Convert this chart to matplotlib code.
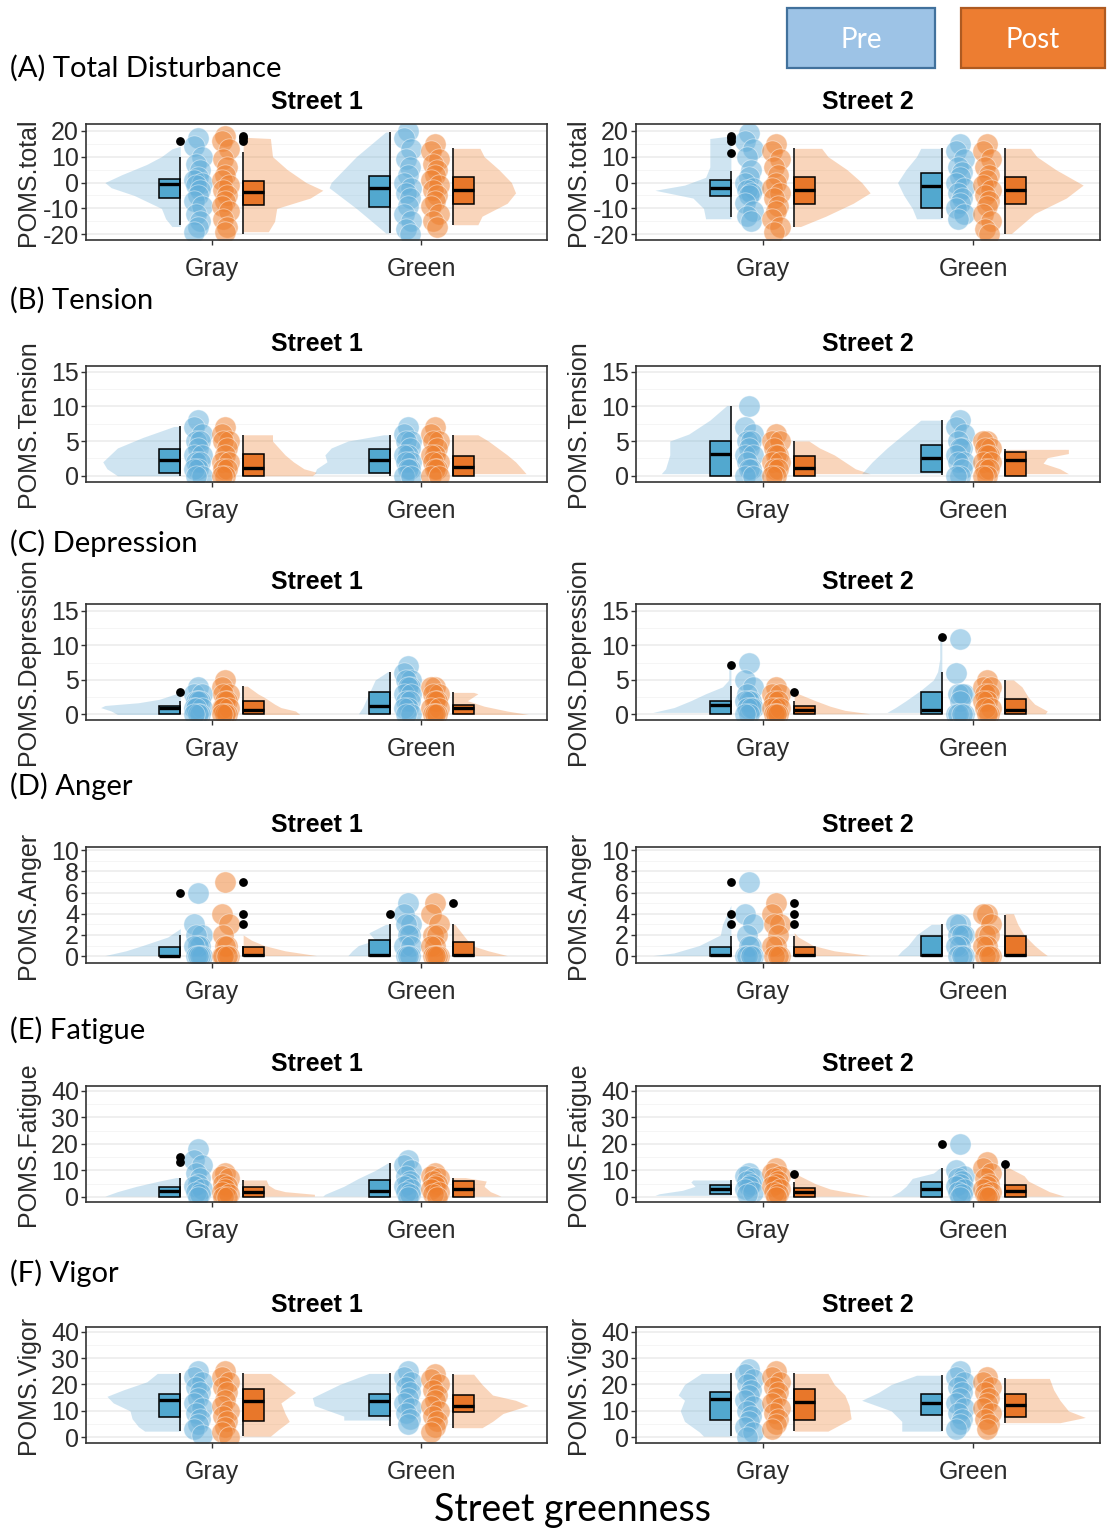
import matplotlib.pyplot as plt
from matplotlib.patches import Rectangle
import numpy as np

plt.rcParams['font.family'] = ['Liberation Sans', 'DejaVu Sans']
plt.rcParams['axes.unicode_minus'] = False

# --- categories / labels ---
groups = ['Gray', 'Green']
streets = ['Street 1', 'Street 2']
panel_labels = ['(A) Total Disturbance', '(B) Tension', '(C) Depression',
                '(D) Anger', '(E) Fatigue', '(F) Vigor']
y_titles = ['POMS.total', 'POMS.Tension', 'POMS.Depression',
            'POMS.Anger', 'POMS.Fatigue', 'POMS.Vigor']
y_ticks = [[-20, -10, 0, 10, 20], [0, 5, 10, 15], [0, 5, 10, 15],
           [0, 2, 4, 6, 8, 10], [0, 10, 20, 30, 40], [0, 10, 20, 30, 40]]
y_lims = [(-22.2, 22.6), (-0.9, 15.8), (-0.8, 16.0),
          (-0.65, 10.3), (-1.9, 41.8), (-2.2, 41.8)]

# order of the four entries in every list: S1 Gray, S1 Green, S2 Gray, S2 Green
# box = (lower whisker, q1, median, q3, upper whisker)

# (A) Total disturbance
total_pre_box = [(-16.5, -6.1, -0.4, 1.5, 10), (-19.5, -9.3, -2.3, 2.4, 19.5),
                 (-13.5, -5.1, -2.3, 1.1, 4.4), (-13.7, -9.7, -1.4, 3.7, 13.2)]
total_post_box = [(-19.7, -8.6, -3.6, 0.6, 11.7), (-16.3, -8.3, -2.7, 2.2, 13.2),
                  (-17.3, -8.3, -2.9, 2.2, 13.2), (-19.7, -8.3, -2.9, 2.2, 13.2)]
total_pre_out = [[16], [], [18, 17, 16, 11.5], []]
total_post_out = [[18, 17, 16], [], [], []]
total_pre_pts = [[17, 14, 10, 7, 5, 2, 1, 0, -1, -3, -5, -7, -9, -12, -15, -17, -19],
                 [20, 17, 13, 9, 6, 3, 0, -2, -4, -6, -9, -12, -15, -18, -20],
                 [19, 16, 13, 10, 5, 2, 0, -2, -3, -4, -5, -8, -11, -13, -15],
                 [15, 12, 9, 6, 4, 2, 0, -2, -4, -6, -8, -10, -12, -14]]
total_post_pts = [[18, 16, 13, 9, 6, 3, 1, -1, -3, -5, -7, -9, -11, -14, -17, -19],
                  [15, 12, 9, 7, 5, 3, 1, -1, -3, -5, -7, -9, -12, -15, -17],
                  [15, 12, 9, 6, 3, 0, -2, -4, -6, -9, -11, -14, -17, -19],
                  [15, 12, 9, 6, 3, 1, -1, -3, -5, -7, -9, -12, -15, -18, -20]]
total_pre_vio = [([-17, -14, -10, -5, -2, 0, 3, 7, 10, 13, 14],
                  [0.04, 0.07, 0.09, 0.22, 0.33, 0.36, 0.28, 0.16, 0.09, 0.04, 0.0]),
                 ([-19.5, -10, -2, 0, 10, 19.5], [0.02, 0.16, 0.29, 0.28, 0.16, 0.02]),
                 ([-14, -10, -6, -3, -1, 2, 6, 12, 17, 18],
                  [0.12, 0.13, 0.18, 0.36, 0.22, 0.12, 0.1, 0.1, 0.1, 0.0]),
                 ([-14, -10, -5, 0, 5, 10, 13.2], [0.12, 0.14, 0.18, 0.21, 0.17, 0.12, 0.1])]
total_post_vio = [([-19, -15, -10, -6, -3, 0, 5, 10, 17, 17.5],
                   [0.12, 0.15, 0.16, 0.32, 0.38, 0.3, 0.21, 0.14, 0.13, 0.0]),
                  ([-16.3, -13, -8, -4, 0, 5, 10, 13.2],
                   [0.12, 0.14, 0.26, 0.3, 0.28, 0.22, 0.15, 0.13]),
                  ([-17, -13, -8, -4, 0, 5, 10, 13.2],
                   [0.03, 0.15, 0.28, 0.36, 0.32, 0.25, 0.16, 0.13]),
                  ([-19.7, -12, -6, -1, 5, 10, 13.2],
                   [0.03, 0.14, 0.29, 0.37, 0.24, 0.15, 0.12])]

# (B) Tension
tension_pre_box = [(0, 0.4, 2.2, 3.9, 7.1), (0, 0.4, 2.2, 3.9, 5.9),
                   (0, 0, 3.1, 5.0, 10.1), (0.1, 0.5, 2.6, 4.4, 8.0)]
tension_post_box = [(0, 0, 1.1, 3.2, 5.9), (0, 0, 1.3, 2.9, 5.9),
                    (0, 0, 1.1, 2.9, 5.0), (0, 0, 2.2, 3.4, 3.9)]
tension_pre_out = [[], [], [], []]
tension_post_out = [[], [], [], []]
tension_pre_pts = [[8, 7, 6, 5, 5, 4, 3, 3, 2, 2, 1, 1, 0, 0],
                   [7, 6, 5, 5, 4, 3, 3, 2, 2, 1, 1, 0, 0],
                   [10, 7, 6, 5, 5, 4, 3, 3, 2, 1, 1, 0, 0],
                   [8, 7, 6, 5, 4, 4, 3, 2, 2, 1, 0, 0]]
tension_post_pts = [[7, 6, 5, 5, 4, 3, 2, 2, 1, 1, 0, 0],
                    [7, 6, 5, 5, 4, 3, 3, 2, 2, 1, 1, 0, 0],
                    [6, 5, 5, 4, 3, 3, 2, 2, 1, 1, 0, 0],
                    [5, 5, 4, 4, 3, 3, 2, 2, 1, 1, 0, 0]]
tension_pre_vio = [([0, 1, 2, 4, 5.5, 7.1], [0.3, 0.35, 0.37, 0.3, 0.18, 0.03]),
                   ([0.3, 1, 2, 3, 4, 5, 5.9], [0.36, 0.35, 0.3, 0.31, 0.28, 0.2, 0.03]),
                   ([0.3, 1, 3, 5, 6, 8, 10.1], [0.33, 0.31, 0.29, 0.29, 0.2, 0.1, 0.02]),
                   ([0.3, 2, 4, 6, 8], [0.38, 0.33, 0.26, 0.18, 0.1])]
tension_post_vio = [([0, 0.5, 1, 2, 3, 5, 5.9], [0.33, 0.35, 0.29, 0.24, 0.2, 0.14, 0.14]),
                    ([0.3, 1, 2, 3, 5, 5.9], [0.35, 0.33, 0.3, 0.26, 0.17, 0.12]),
                    ([0.3, 1, 2, 3, 4, 5], [0.36, 0.29, 0.24, 0.19, 0.12, 0.07]),
                    ([0.3, 1, 1.8, 2.6, 3.2, 3.8], [0.3, 0.26, 0.18, 0.2, 0.3, 0.3])]

# (C) Depression
depression_pre_box = [(0, 0, 1.0, 1.3, 2.0), (0, 0, 1.3, 3.2, 6.2),
                      (0, 0, 1.4, 2.0, 4.1), (0, 0, 0.6, 3.2, 6.2)]
depression_post_box = [(0, 0, 0.6, 2.0, 4.1), (0, 0, 1.0, 1.4, 3.2),
                       (0, 0, 0.6, 1.2, 2.0), (0, 0, 0.7, 2.3, 5.0)]
depression_pre_out = [[3.2], [], [7.1], [11.2]]
depression_post_out = [[], [], [3.2], []]
depression_pre_pts = [[4, 3, 3, 2, 2, 2, 1, 1, 1, 0, 0, 0],
                      [7, 6, 5, 5, 4, 4, 3, 3, 2, 2, 1, 1, 0, 0],
                      [7.5, 5, 4, 3, 2, 2, 2, 1, 1, 1, 0, 0],
                      [11, 6, 3, 3, 3, 2, 0, 0, 0, 0]]
depression_post_pts = [[5, 4, 3, 3, 2, 2, 1, 1, 1, 0, 0, 0],
                       [4, 4, 3, 3, 2, 2, 1, 1, 0, 0, 0],
                       [4, 3, 3, 2, 2, 1, 1, 1, 0, 0, 0],
                       [5, 4, 4, 3, 3, 2, 2, 1, 1, 0, 0]]
depression_pre_vio = [([0, 0.5, 1.0, 1.3, 1.7, 2.2, 3.0], [0.3, 0.33, 0.38, 0.36, 0.2, 0.1, 0.02]),
                      ([0.1, 1, 3, 5, 6.2], [0.15, 0.13, 0.1, 0.07, 0.01]),
                      ([0.3, 1, 2, 3, 4, 5, 7.1], [0.37, 0.27, 0.19, 0.12, 0.04, 0.01, 0.01]),
                      ([0.3, 1, 2, 3.5, 5, 6.2, 8, 11.2],
                       [0.26, 0.22, 0.17, 0.1, 0.04, 0.02, 0.01, 0.01])]
depression_post_vio = [([0, 0.5, 1, 1.5, 2.5, 3, 4.1], [0.27, 0.25, 0.18, 0.15, 0.1, 0.07, 0.02]),
                       ([0, 0.5, 1.2, 2, 3.0, 3.2], [0.36, 0.26, 0.15, 0.07, 0.12, 0.1]),
                       ([0.1, 0.6, 1.2, 2, 3, 3.2], [0.36, 0.24, 0.17, 0.1, 0.02, 0.0]),
                       ([0.1, 0.5, 1.5, 2.5, 4, 5], [0.19, 0.2, 0.14, 0.11, 0.08, 0.04])]

# (D) Anger
anger_pre_box = [(0, 0, 0, 0.9, 2.0), (0, 0, 0.1, 1.5, 3.0),
                 (0, 0, 0.1, 0.9, 1.9), (0, 0, 0.1, 1.9, 3.0)]
anger_post_box = [(0, 0, 0.15, 0.9, 1.0), (0, 0, 0.1, 1.3, 3.0),
                  (0, 0, 0.15, 0.9, 1.9), (0, 0, 0.1, 1.9, 3.9)]
anger_pre_out = [[6], [4], [7, 4, 3], []]
anger_post_out = [[7, 4, 3], [5], [5, 4, 3], []]
anger_pre_pts = [[6, 3, 2, 2, 1, 1, 1, 0, 0, 0, 0],
                 [5, 4, 3, 3, 2, 2, 1, 1, 0, 0, 0],
                 [7, 4, 3, 2, 1, 1, 0, 0, 0, 0],
                 [3, 3, 2, 2, 2, 1, 1, 0, 0, 0]]
anger_post_pts = [[7, 4, 3, 2, 1, 1, 0, 0, 0, 0],
                  [5, 4, 3, 2, 2, 1, 1, 0, 0, 0, 0],
                  [5, 4, 3, 3, 2, 1, 1, 0, 0, 0],
                  [4, 4, 3, 2, 2, 1, 1, 0, 0, 0]]
anger_pre_vio = [([0.05, 0.5, 1, 1.8, 2.6], [0.36, 0.26, 0.18, 0.06, 0.0]),
                 ([0.05, 0.5, 1, 1.5, 2.2, 3.0], [0.2, 0.18, 0.15, 0.07, 0.1, 0.02]),
                 ([0.05, 0.3, 1, 2, 3, 4.8], [0.37, 0.27, 0.15, 0.05, 0.04, 0.0]),
                 ([0.05, 0.5, 1, 2, 3], [0.21, 0.19, 0.16, 0.12, 0.05])]
anger_post_vio = [([0.05, 0.5, 1, 1.5, 2], [0.35, 0.2, 0.1, 0.04, 0.0]),
                  ([0.05, 0.5, 1, 2, 3], [0.26, 0.17, 0.09, 0.05, 0.01]),
                  ([0.05, 0.5, 1, 1.8, 2.2], [0.36, 0.19, 0.09, 0.02, 0.0]),
                  ([0.05, 0.5, 1, 2, 3, 4], [0.2, 0.17, 0.14, 0.09, 0.06, 0.04])]

# (E) Fatigue
fatigue_pre_box = [(0, 0, 2.3, 3.8, 7.3), (0, 0, 2.3, 6.4, 12.8),
                   (0.6, 1.3, 2.9, 4.5, 6.4), (0, 0, 2.9, 5.8, 10.9)]
fatigue_post_box = [(0, 0, 1.9, 3.8, 6.4), (0, 0, 2.9, 6.0, 7.3),
                    (0, 0, 1.7, 3.2, 5.8), (0, 0, 2.3, 4.5, 10.9)]
fatigue_pre_out = [[15, 13], [], [], [19.8]]
fatigue_post_out = [[], [], [8.6], [12.4]]
fatigue_pre_pts = [[18, 14, 12, 9, 7, 5, 4, 3, 2, 1, 0],
                   [14, 12, 10, 8, 6, 5, 4, 3, 2, 1, 0],
                   [9, 8, 7, 6, 5, 4, 3, 2, 1],
                   [20, 10, 8, 7, 6, 5, 4, 3, 2, 1, 0]]
fatigue_post_pts = [[9, 8, 7, 5, 4, 3, 2, 1, 0, 0],
                    [9, 8, 7, 6, 5, 4, 3, 2, 1, 0],
                    [11, 9, 8, 7, 6, 5, 4, 3, 2, 1, 0],
                    [13, 11, 9, 7, 5, 4, 3, 2, 1, 0, 0]]
fatigue_pre_vio = [([0.3, 2, 4, 6, 7.3], [0.36, 0.3, 0.21, 0.1, 0.02]),
                   ([0.3, 1, 4, 7, 10, 12.8], [0.32, 0.31, 0.22, 0.15, 0.07, 0.01]),
                   ([0.6, 1.2, 2.5, 4, 5.6, 6.4], [0.36, 0.34, 0.23, 0.17, 0.19, 0.18]),
                   ([0.3, 2, 4, 7, 9, 10.9], [0.24, 0.2, 0.17, 0.14, 0.04, 0.01])]
fatigue_post_vio = [([0.3, 1, 2, 3, 4.5, 6.4], [0.34, 0.34, 0.2, 0.15, 0.12, 0.11]),
                    ([0.3, 1, 2, 4, 6, 7.3], [0.23, 0.21, 0.18, 0.15, 0.16, 0.06]),
                    ([0.3, 1.5, 3, 5, 7, 8.6], [0.36, 0.27, 0.17, 0.1, 0.05, 0.01]),
                    ([0.3, 2, 4, 6, 8, 10.9], [0.28, 0.21, 0.16, 0.11, 0.09, 0.02])]

# (F) Vigor
vigor_pre_box = [(2.3, 7.7, 14.3, 16.5, 24.2), (4.2, 8.1, 13.6, 16.5, 24.2),
                 (0.4, 6.6, 14.5, 17.1, 24.2), (2.3, 8.4, 13.0, 16.5, 23.5)]
vigor_post_box = [(0.4, 6.2, 13.6, 18.4, 24.2), (3.6, 9.6, 12.0, 16.1, 23.9),
                  (2.3, 6.6, 13.2, 18.4, 24.2), (5.5, 7.5, 12.2, 16.5, 22.3)]
vigor_pre_out = [[], [], [], []]
vigor_post_out = [[], [], [], []]
vigor_pre_pts = [[25, 23, 21, 19, 17, 15, 13, 11, 9, 7, 5, 3, 1],
                 [25, 23, 21, 19, 17, 15, 13, 11, 9, 7, 5],
                 [26, 24, 22, 20, 18, 16, 14, 12, 10, 8, 6, 4, 2, 0],
                 [25, 23, 21, 19, 17, 15, 13, 11, 9, 7, 5, 3]]
vigor_post_pts = [[25, 23, 21, 19, 17, 14, 12, 10, 8, 6, 4, 2, 0],
                  [24, 22, 20, 18, 16, 14, 12, 10, 8, 6, 4, 2],
                  [25, 23, 21, 19, 17, 15, 13, 11, 9, 7, 5, 3],
                  [23, 21, 19, 17, 15, 13, 11, 9, 7, 5, 3]]
vigor_pre_vio = [([2.3, 4, 7, 10, 13, 15.5, 18, 21, 24.2],
                  [0.17, 0.2, 0.23, 0.24, 0.32, 0.35, 0.27, 0.16, 0.11]),
                 ([6.5, 8, 12, 15, 20, 24.2], [0.22, 0.22, 0.36, 0.37, 0.24, 0.1]),
                 ([0.4, 2, 6, 10, 14, 16, 20, 24.2],
                  [0.13, 0.15, 0.22, 0.24, 0.22, 0.25, 0.22, 0.14]),
                 ([2.3, 6, 10, 14, 17, 20, 23.5], [0.19, 0.19, 0.24, 0.38, 0.3, 0.24, 0.12])]
vigor_post_vio = [([0.4, 3, 6, 9, 13, 17, 20, 24.2],
                   [0.13, 0.17, 0.22, 0.2, 0.18, 0.25, 0.2, 0.13]),
                  ([3.6, 6, 9, 12, 14, 16, 20, 23.9],
                   [0.14, 0.19, 0.24, 0.36, 0.3, 0.19, 0.14, 0.1]),
                  ([2.3, 4, 7, 12, 16, 20, 24.2], [0.16, 0.2, 0.27, 0.26, 0.24, 0.19, 0.16]),
                  ([5.5, 7.5, 10, 14, 18, 22.3], [0.26, 0.38, 0.3, 0.26, 0.23, 0.21])]

rows = [
    (total_pre_box, total_post_box, total_pre_out, total_post_out,
     total_pre_pts, total_post_pts, total_pre_vio, total_post_vio),
    (tension_pre_box, tension_post_box, tension_pre_out, tension_post_out,
     tension_pre_pts, tension_post_pts, tension_pre_vio, tension_post_vio),
    (depression_pre_box, depression_post_box, depression_pre_out, depression_post_out,
     depression_pre_pts, depression_post_pts, depression_pre_vio, depression_post_vio),
    (anger_pre_box, anger_post_box, anger_pre_out, anger_post_out,
     anger_pre_pts, anger_post_pts, anger_pre_vio, anger_post_vio),
    (fatigue_pre_box, fatigue_post_box, fatigue_pre_out, fatigue_post_out,
     fatigue_pre_pts, fatigue_post_pts, fatigue_pre_vio, fatigue_post_vio),
    (vigor_pre_box, vigor_post_box, vigor_pre_out, vigor_post_out,
     vigor_pre_pts, vigor_post_pts, vigor_pre_vio, vigor_post_vio),
]

# --- style ---
PRE_VIO, POST_VIO = '#6BAED6', '#EE7F2D'
PRE_PT, POST_PT = '#62AEDA', '#EE7F2D'
PRE_BOX, POST_BOX = '#52A8CF', '#E8772A'
JITTER = [0.0, -0.018, 0.018, -0.009, 0.009]

W, H = 1107, 1530
fig = plt.figure(figsize=(W / 100, H / 100), dpi=100)

row_tops = [124, 366, 604, 847, 1086, 1327]
label_y = [68, 300, 543, 786, 1030, 1273]
col_x = [(86, 547), (636, 1100)]
ax_h = 116


def draw_side(ax, xc, side, box, out, pts, vio, vio_col, pt_col, box_col):
    edge = xc + side * 0.15
    vy, vw = np.array(vio[0]), np.array(vio[1])
    ax.fill_betweenx(vy, edge, edge + side * vw, color=vio_col, alpha=0.32,
                     lw=0, zorder=1)
    xs = [xc + side * 0.065 + JITTER[i % 5] for i in range(len(pts))]
    ax.scatter(xs, pts, s=235, color=pt_col, alpha=0.5, edgecolors='white',
               linewidths=0.6, zorder=2)
    lo, q1, med, q3, hi = box
    ax.bar(xc + side * 0.2, q3 - q1, bottom=q1, width=0.1, color=box_col,
           edgecolor='black', linewidth=1.1, zorder=3)
    ax.hlines(med, xc + side * 0.15, xc + side * 0.25, colors='black', lw=2.4, zorder=4)
    ax.vlines(edge, lo, hi, colors='black', lw=1.1, zorder=4)
    if out:
        ax.scatter([edge] * len(out), out, s=28, color='black', zorder=5)


for r, data in enumerate(rows):
    pre_box, post_box, pre_out, post_out, pre_pts, post_pts, pre_vio, post_vio = data
    fig.text(10 / W, 1 - label_y[r] / H, panel_labels[r], family='Lato',
             fontsize=21, va='center', ha='left', color='black')
    for s in range(2):
        x0, x1 = col_x[s]
        ax = fig.add_axes([x0 / W, 1 - (row_tops[r] + ax_h) / H,
                           (x1 - x0) / W, ax_h / H])
        for g in range(2):
            k = s * 2 + g
            xc = g + 1
            draw_side(ax, xc, -1, pre_box[k], pre_out[k], pre_pts[k], pre_vio[k],
                      PRE_VIO, PRE_PT, PRE_BOX)
            draw_side(ax, xc, 1, post_box[k], post_out[k], post_pts[k], post_vio[k],
                      POST_VIO, POST_PT, POST_BOX)

        ticks = y_ticks[r]
        step = ticks[1] - ticks[0]
        ax.set_ylim(*y_lims[r])
        ax.set_xlim(0.4, 2.6)
        ax.set_yticks(ticks)
        ax.set_yticks([t + step / 2 for t in ticks[:-1]], minor=True)
        ax.set_xticks([1, 2])
        ax.set_xticklabels(groups)
        ax.grid(axis='y', which='major', color='#EBEBEB', lw=1.1, zorder=0)
        ax.grid(axis='y', which='minor', color='#F4F4F4', lw=0.6, zorder=0)
        ax.set_axisbelow(True)
        ax.tick_params(axis='both', which='major', labelsize=18, length=3.5,
                       width=1, colors='#333333', labelcolor='#2b2b2b')
        ax.tick_params(axis='y', which='major', pad=1.5)
        ax.tick_params(axis='x', which='major', pad=9)
        ax.tick_params(axis='y', which='minor', length=0)
        for sp in ax.spines.values():
            sp.set_color('#333333')
            sp.set_linewidth(1.2)
        ax.set_title(streets[s], fontsize=18, fontweight='bold', pad=11)
        ax.set_ylabel(y_titles[r], fontsize=18, color='#2b2b2b')
        ax.yaxis.set_label_coords(-0.1, 0.5)

# legend boxes
fig.add_artist(Rectangle((787 / W, 1 - 68 / H), 148 / W, 60 / H,
                         transform=fig.transFigure, facecolor='#9DC3E6',
                         edgecolor='#41719C', lw=1.6))
fig.add_artist(Rectangle((961 / W, 1 - 68 / H), 144 / W, 60 / H,
                         transform=fig.transFigure, facecolor='#ED7D31',
                         edgecolor='#AE5A21', lw=1.6))
fig.text(861 / W, 1 - 40 / H, 'Pre', family='Lato', fontsize=20, color='white',
         ha='center', va='center')
fig.text(1033 / W, 1 - 40 / H, 'Post', family='Lato', fontsize=20, color='white',
         ha='center', va='center')

fig.text(572 / W, 1 - 1510 / H, 'Street greenness', family='Lato', fontsize=27,
         ha='center', va='center', color='black')

fig.savefig('out.png', dpi=100)
